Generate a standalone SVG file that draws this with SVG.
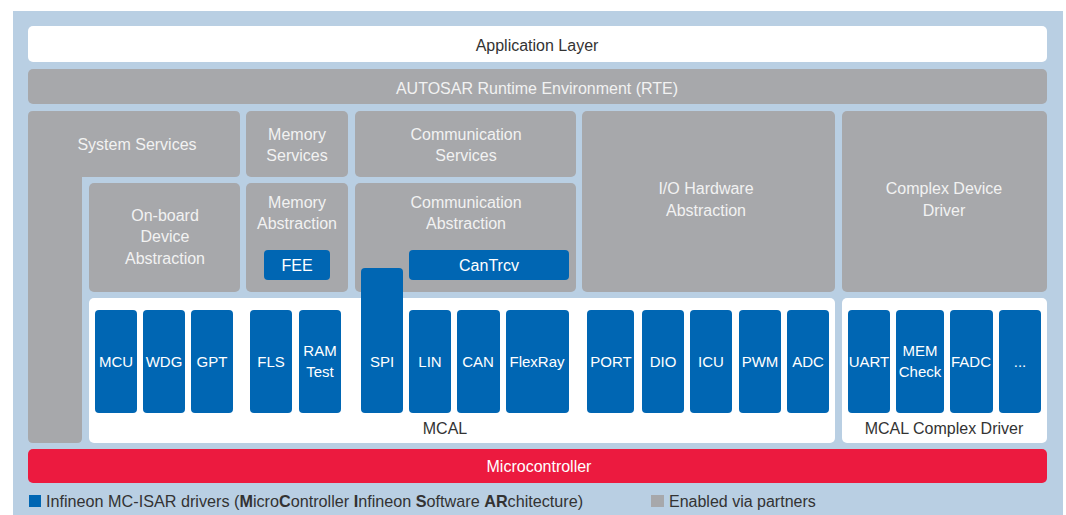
<svg xmlns="http://www.w3.org/2000/svg" width="1066" height="515" viewBox="0 0 1066 515">
<style>
  .g{fill:#a7a8ab}
  .w{fill:#ffffff}
  .b{fill:#0066b3}
  .t{font-family:"Liberation Sans",Arial,sans-serif;font-size:16px;text-anchor:middle}
  .s{font-size:15px}
  .lt{fill:#f2f2f2}
  .dk{fill:#333333}
  .wt{fill:#ffffff}
</style>
<rect x="0" y="0" width="1066" height="515" fill="#ffffff"/>
<rect x="13" y="11" width="1050" height="504" fill="#b9cfe3"/>

<g id="app-layer">
  <rect class="w" x="28" y="26" width="1019" height="36" rx="5"/>
  <text class="t dk" x="537" y="51">Application Layer</text>
</g>
<g id="rte">
  <rect class="g" x="28" y="69" width="1019" height="35" rx="5"/>
  <text class="t lt" x="537" y="94">AUTOSAR Runtime Environment (RTE)</text>
</g>
<g id="system-services">
  <path class="g" d="M33 111 H235 Q240 111 240 116 V172 Q240 177 235 177 H82 V438 Q82 443 77 443 H33 Q28 443 28 438 V116 Q28 111 33 111 Z"/>
  <text class="t lt" x="137" y="150">System Services</text>
</g>
<g id="memory-services">
  <rect class="g" x="246" y="111" width="102" height="66" rx="5"/>
  <text class="t lt" x="297" y="140">Memory</text>
  <text class="t lt" x="297" y="161">Services</text>
</g>
<g id="communication-services">
  <rect class="g" x="355" y="111" width="221" height="66" rx="5"/>
  <text class="t lt" x="466" y="140">Communication</text>
  <text class="t lt" x="466" y="161">Services</text>
</g>
<g id="io-hw-abstraction">
  <rect class="g" x="582" y="111" width="253" height="181" rx="5"/>
  <text class="t lt" x="706" y="194">I/O Hardware</text>
  <text class="t lt" x="706" y="216">Abstraction</text>
</g>
<g id="complex-device-driver">
  <rect class="g" x="842" y="111" width="205" height="181" rx="5"/>
  <text class="t lt" x="944" y="194">Complex Device</text>
  <text class="t lt" x="944" y="216">Driver</text>
</g>
<g id="onboard-device-abstraction">
  <rect class="g" x="89" y="183" width="151" height="109" rx="5"/>
  <text class="t lt" x="165" y="221">On-board</text>
  <text class="t lt" x="165" y="242">Device</text>
  <text class="t lt" x="165" y="264">Abstraction</text>
</g>
<g id="memory-abstraction">
  <rect class="g" x="246" y="183" width="102" height="109" rx="5"/>
  <text class="t lt" x="297" y="208">Memory</text>
  <text class="t lt" x="297" y="229">Abstraction</text>
</g>
<g id="fee">
  <rect class="b" x="264" y="250" width="66" height="30" rx="4"/>
  <text class="t wt" x="297" y="271">FEE</text>
</g>
<g id="communication-abstraction">
  <rect class="g" x="355" y="183" width="221" height="109" rx="5"/>
  <text class="t lt" x="466" y="208">Communication</text>
  <text class="t lt" x="466" y="229">Abstraction</text>
</g>
<g id="cantrcv">
  <rect class="b" x="409" y="250" width="160" height="30" rx="4"/>
  <text class="t wt" x="489" y="271">CanTrcv</text>
</g>
<g id="mcal">
  <rect class="w" x="89" y="298" width="746" height="145" rx="5"/>
  <text class="t dk" x="445" y="434">MCAL</text>
</g>
<g id="mcal-complex-driver">
  <rect class="w" x="842" y="298" width="205" height="145" rx="5"/>
  <text class="t dk" x="944" y="434">MCAL Complex Driver</text>
</g>
<g id="spi">
  <rect class="b" x="361" y="268" width="42" height="145" rx="4"/>
  <text class="t s wt" x="382" y="367">SPI</text>
</g>
<g id="mcu"><rect class="b" x="95" y="310" width="42" height="103" rx="4"/><text class="t s wt" x="116" y="367">MCU</text></g>
<g id="wdg"><rect class="b" x="143" y="310" width="42" height="103" rx="4"/><text class="t s wt" x="164" y="367">WDG</text></g>
<g id="gpt"><rect class="b" x="191" y="310" width="42" height="103" rx="4"/><text class="t s wt" x="212" y="367">GPT</text></g>
<g id="fls"><rect class="b" x="250" y="310" width="42" height="103" rx="4"/><text class="t s wt" x="271" y="367">FLS</text></g>
<g id="ramtest"><rect class="b" x="299" y="310" width="42" height="103" rx="4"/><text class="t s wt" x="320" y="356">RAM</text><text class="t s wt" x="320" y="377">Test</text></g>
<g id="lin"><rect class="b" x="409" y="310" width="42" height="103" rx="4"/><text class="t s wt" x="430" y="367">LIN</text></g>
<g id="can"><rect class="b" x="457" y="310" width="43" height="103" rx="4"/><text class="t s wt" x="478" y="367">CAN</text></g>
<g id="flexray"><rect class="b" x="506" y="310" width="63" height="103" rx="4"/><text class="t s wt" x="537" y="367">FlexRay</text></g>
<g id="port"><rect class="b" x="587" y="310" width="47" height="103" rx="4"/><text class="t s wt" x="611" y="367">PORT</text></g>
<g id="dio"><rect class="b" x="642" y="310" width="42" height="103" rx="4"/><text class="t s wt" x="663" y="367">DIO</text></g>
<g id="icu"><rect class="b" x="690" y="310" width="42" height="103" rx="4"/><text class="t s wt" x="711" y="367">ICU</text></g>
<g id="pwm"><rect class="b" x="739" y="310" width="42" height="103" rx="4"/><text class="t s wt" x="760" y="367">PWM</text></g>
<g id="adc"><rect class="b" x="787" y="310" width="42" height="103" rx="4"/><text class="t s wt" x="808" y="367">ADC</text></g>
<g id="uart"><rect class="b" x="848" y="310" width="42" height="103" rx="4"/><text class="t s wt" x="869" y="367">UART</text></g>
<g id="memcheck"><rect class="b" x="896" y="310" width="48" height="103" rx="4"/><text class="t s wt" x="920" y="356">MEM</text><text class="t s wt" x="920" y="377">Check</text></g>
<g id="fadc"><rect class="b" x="950" y="310" width="43" height="103" rx="4"/><text class="t s wt" x="971" y="367">FADC</text></g>
<g id="more"><rect class="b" x="999" y="310" width="42" height="103" rx="4"/><text class="t s wt" x="1020" y="367">...</text></g>

<g id="microcontroller">
  <rect x="28" y="449" width="1019" height="34" rx="5" fill="#ec1a3f"/>
  <text class="t wt" x="539" y="472">Microcontroller</text>
</g>

<g id="legend">
  <rect class="b" x="29" y="495" width="12" height="12"/>
  <text class="dk" x="46" y="507" font-family="Liberation Sans, Arial, sans-serif" font-size="16.2">Infineon MC-ISAR drivers (<tspan font-weight="bold">M</tspan>icro<tspan font-weight="bold">C</tspan>ontroller <tspan font-weight="bold">I</tspan>nfineon <tspan font-weight="bold">S</tspan>oftware <tspan font-weight="bold">AR</tspan>chitecture)</text>
  <rect class="g" x="651" y="495" width="13" height="12"/>
  <text class="dk" x="669" y="507" font-family="Liberation Sans, Arial, sans-serif" font-size="16">Enabled via partners</text>
</g>
<g id="connectors"></g>
</svg>
